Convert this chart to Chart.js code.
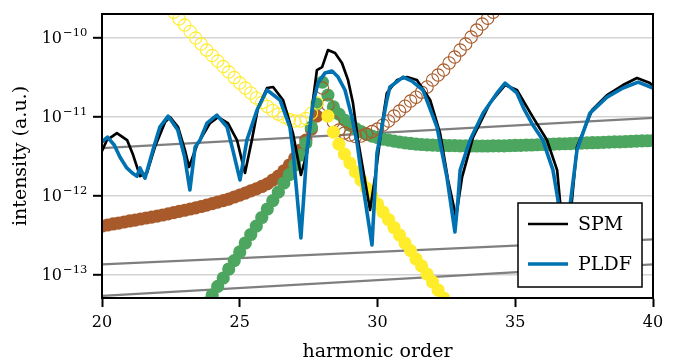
<!DOCTYPE html>
<html><head><meta charset="utf-8">
<script src="https://cdn.jsdelivr.net/npm/chart.js@4.4.1/dist/chart.umd.min.js"></script>
<style>html,body{margin:0;padding:0;background:#fff;overflow:hidden}canvas{display:block}</style>
</head><body>
<canvas id="c" width="679" height="362"></canvas>
<script>
// ---------- data ----------
const xTickValues = [20, 25, 30, 35, 40];
const xTickLabels = ['20', '25', '30', '35', '40'];
const yTickValues = [1e-13, 1e-12, 1e-11, 1e-10];
const yTickBase = '10';
const yTickExps = ['\u221213', '\u221212', '\u221211', '\u221210'];
const xTitle = 'harmonic order';
const yTitle = 'intensity (a.u.)';

const spmX = [20.0,20.18,20.54,20.91,21.13,21.38,21.63,21.92,22.29,22.47,22.76,23.01,23.16,23.45,23.92,24.21,24.57,24.90,25.19,25.44,25.66,25.99,26.21,26.57,26.93,27.22,27.44,27.66,27.80,27.99,28.20,28.46,28.71,28.93,29.11,29.29,29.51,29.73,29.95,30.16,30.34,30.71,31.07,31.43,31.91,32.27,32.56,32.85,33.07,33.47,34.08,34.63,35.06,35.64,36.15,36.52,36.62,36.81,37.06,37.24,37.79,38.33,38.91,39.42,39.89,40.0];
const spmY = [3.68e-12,5.07e-12,6.22e-12,5.07e-12,3.27e-12,1.77e-12,1.94e-12,4.13e-12,8.57e-12,9.9e-12,7.41e-12,3.78e-12,2.31e-12,4.38e-12,8.32e-12,9.9e-12,8.32e-12,5.07e-12,1.94e-12,5.07e-12,1.29e-11,2.31e-11,2.38e-11,1.63e-11,6.22e-12,1.83e-12,3.47e-12,1.63e-11,3.9e-11,4.25e-11,6.98e-11,6.4e-11,4.79e-11,2.92e-11,1.49e-11,5.07e-12,1.83e-12,6.59e-13,2.11e-12,7.85e-12,2.0e-11,2.92e-11,3.18e-11,2.92e-11,1.63e-11,6.22e-12,1.58e-12,5.37e-13,1.72e-12,5.53e-12,1.49e-11,2.52e-11,2.18e-11,9.9e-12,5.07e-12,2.11e-12,8.83e-13,2.06e-13,8.83e-13,4.13e-12,1.22e-11,1.88e-11,2.52e-11,3.09e-11,2.67e-11,2.38e-11];

const pldfX = [20.0,20.2,20.45,20.65,20.9,21.1,21.27,21.38,21.56,21.85,22.1,22.4,22.75,23.0,23.19,23.38,23.56,23.81,24.17,24.54,24.75,25.01,25.26,25.63,25.99,26.46,26.82,26.93,27.22,27.44,27.66,27.84,28.09,28.35,28.57,28.82,29.07,29.26,29.44,29.80,29.98,30.16,30.34,30.45,30.93,31.25,31.65,32.16,32.52,32.81,32.92,33.0,33.36,33.83,34.34,34.63,35.06,35.3,35.64,36.0,36.37,36.55,36.8,37.0,37.24,37.71,38.33,38.91,39.46,40.0];
const pldfY = [4.79e-12,5.53e-12,4.36e-12,3.09e-12,2.25e-12,1.94e-12,1.77e-12,2.25e-12,1.67e-12,3.78e-12,7.41e-12,1.02e-11,6.79e-12,3.09e-12,1.18e-12,4.13e-12,5.07e-12,8.32e-12,1.05e-11,7.41e-12,3.78e-12,1.58e-12,5.07e-12,1.22e-11,2.18e-11,1.63e-11,7.41e-12,3.78e-12,2.92e-13,3.78e-12,1.49e-11,2.67e-11,3.57e-11,3.79e-11,3.18e-11,2.18e-11,9.9e-12,4.65e-12,1.58e-12,2.38e-13,3.47e-12,7.41e-12,1.63e-11,2.38e-11,3.18e-11,2.83e-11,2.18e-11,7.41e-12,1.72e-12,3.47e-13,8.83e-13,2.11e-12,5.07e-12,1.11e-11,2.0e-11,2.67e-11,2.0e-11,1.29e-11,7.85e-12,5.07e-12,2.11e-12,8.83e-13,2.06e-13,8.09e-13,3.78e-12,1.11e-11,1.77e-11,2.31e-11,2.75e-11,2.31e-11];

const brownFilledX = [20.0,20.2,20.4,20.6,20.8,21.0,21.2,21.4,21.6,21.8,22.0,22.2,22.4,22.6,22.8,23.0,23.2,23.4,23.6,23.8,24.0,24.2,24.4,24.6,24.8,25.0,25.2,25.4,25.6,25.8,26.0,26.2,26.4,26.6,26.8,27.0,27.2,27.4,27.6,27.8];
const brownFilledY = [4.13e-13,4.26e-13,4.39e-13,4.51e-13,4.65e-13,4.79e-13,4.92e-13,5.07e-13,5.22e-13,5.37e-13,5.53e-13,5.70e-13,5.90e-13,6.11e-13,6.33e-13,6.55e-13,6.79e-13,7.03e-13,7.30e-13,7.62e-13,7.96e-13,8.32e-13,8.69e-13,9.08e-13,9.63e-13,1.02e-12,1.08e-12,1.15e-12,1.22e-12,1.31e-12,1.41e-12,1.58e-12,1.77e-12,2.06e-12,2.45e-12,3.00e-12,3.78e-12,5.07e-12,6.98e-12,1.02e-11];

const brownOpenX = [28.0,28.2,28.4,28.6,28.8,29.0,29.2,29.4,29.6,29.8,30.0,30.2,30.4,30.6,30.8,31.0,31.2,31.4,31.6,31.8,32.0,32.2,32.4,32.6,32.8,33.0,33.2,33.4,33.6,33.8,34.0,34.2];
const brownOpenY = [2.31e-11,1.41e-11,8.57e-12,6.79e-12,6.22e-12,5.86e-12,5.61e-12,5.70e-12,6.04e-12,6.50e-12,6.98e-12,7.85e-12,8.83e-12,1.02e-11,1.18e-11,1.36e-11,1.58e-11,1.77e-11,2.05e-11,2.38e-11,2.92e-11,3.37e-11,3.90e-11,4.79e-11,5.70e-11,6.98e-11,8.32e-11,1.02e-10,1.25e-10,1.49e-10,1.77e-10,2.11e-10];

const yellowOpenX = [22.6,22.8,23.0,23.2,23.4,23.6,23.8,24.0,24.2,24.4,24.6,24.8,25.0,25.2,25.4,25.6,25.8,26.0,26.2,26.4,26.6,26.8,27.0,27.2,27.4,27.6,27.8];
const yellowOpenY = [2.11e-10,1.73e-10,1.45e-10,1.20e-10,9.91e-11,8.32e-11,6.98e-11,5.95e-11,5.07e-11,4.32e-11,3.68e-11,3.13e-11,2.67e-11,2.31e-11,2.00e-11,1.73e-11,1.51e-11,1.35e-11,1.20e-11,1.08e-11,9.91e-12,9.22e-12,8.83e-12,8.83e-12,9.48e-12,1.11e-11,1.49e-11];

const yellowFilledX = [28.2,28.4,28.6,28.8,29.0,29.2,29.4,29.6,29.8,30.0,30.2,30.4,30.6,30.8,31.0,31.2,31.4,31.6,31.8,32.0,32.2,32.4];
const yellowFilledY = [1.02e-11,6.40e-12,4.51e-12,3.37e-12,2.59e-12,2.00e-12,1.58e-12,1.25e-12,9.91e-13,7.85e-13,6.22e-13,5.00e-13,3.96e-13,3.18e-13,2.52e-13,2.02e-13,1.58e-13,1.29e-13,1.02e-13,8.09e-14,6.40e-14,5.07e-14];

const greenX = [23.8,24.0,24.2,24.4,24.6,24.8,25.0,25.2,25.4,25.6,25.8,26.0,26.2,26.4,26.6,26.8,27.0,27.2,27.4,27.6,27.8,28.0,28.2,28.4,28.6,28.8,29.0,29.2,29.4,29.6,29.8,30.0,30.2,30.4,30.6,30.8,31.0,31.2,31.4,31.6,31.8,32.0,32.2,32.4,32.6,32.8,33.0,33.2,33.4,33.6,33.8,34.0,34.2,34.4,34.6,34.8,35.0,35.2,35.4,35.6,35.8,36.0,36.2,36.4,36.6,36.8,37.0,37.2,37.4,37.6,37.8,38.0,38.2,38.4,38.6,38.8,39.0,39.2,39.4,39.6,39.8,40.0];
const greenY = [4.39e-14,5.53e-14,7.10e-14,9.08e-14,1.18e-13,1.51e-13,1.94e-13,2.52e-13,3.23e-13,4.13e-13,5.30e-13,6.79e-13,8.69e-13,1.11e-12,1.45e-12,1.85e-12,2.45e-12,3.27e-12,4.65e-12,7.41e-12,1.45e-11,2.75e-11,1.88e-11,1.33e-11,1.08e-11,9.08e-12,7.85e-12,7.10e-12,6.50e-12,6.04e-12,5.70e-12,5.46e-12,5.22e-12,5.07e-12,4.92e-12,4.79e-12,4.68e-12,4.59e-12,4.51e-12,4.45e-12,4.41e-12,4.37e-12,4.35e-12,4.33e-12,4.32e-12,4.30e-12,4.28e-12,4.27e-12,4.26e-12,4.26e-12,4.26e-12,4.26e-12,4.27e-12,4.28e-12,4.29e-12,4.31e-12,4.33e-12,4.35e-12,4.37e-12,4.39e-12,4.42e-12,4.45e-12,4.47e-12,4.50e-12,4.53e-12,4.55e-12,4.58e-12,4.61e-12,4.63e-12,4.66e-12,4.69e-12,4.71e-12,4.74e-12,4.77e-12,4.80e-12,4.82e-12,4.85e-12,4.88e-12,4.91e-12,4.94e-12,4.97e-12,5.00e-12];

const grayX = [20, 40];
const grayA = [4.0e-12, 9.7e-12];
const grayB = [1.35e-13, 2.8e-13];
const grayC = [5.4e-14, 1.35e-13];

// ---------- styles ----------
const FONT = '"DejaVu Serif", "Liberation Serif", serif';
const C_BLUE = '#0072b2', C_BROWN = '#a85a2a', C_GREEN = '#4ca65f', C_YELLOW = '#ffec2a', C_GRAY = '#7f7f7f';
const pts = (xs, ys) => xs.map((x, i) => ({ x: x, y: ys[i] }));

const lineDs = (label, xs, ys, color, w) => ({ label, data: pts(xs, ys), showLine: true, borderColor: color, borderWidth: w, borderJoinStyle: 'round', borderCapStyle: 'butt', pointRadius: 0, fill: false, tension: 0, clip: 0 });
const filledDs = (label, xs, ys, color) => ({ label, data: pts(xs, ys), showLine: false, pointRadius: 6.6, pointBackgroundColor: color, pointBorderColor: color, pointBorderWidth: 0, clip: 0 });
const openDs = (label, xs, ys, color) => ({ label, data: pts(xs, ys), showLine: false, pointRadius: 6.2, pointBackgroundColor: 'rgba(0,0,0,0)', pointBorderColor: color, pointBorderWidth: 1.1, clip: 0 });

// first dataset is drawn on top
const datasets = [
  lineDs('PLDF', pldfX, pldfY, C_BLUE, 3.6),
  lineDs('SPM', spmX, spmY, '#000000', 2.7),
  filledDs('yf', yellowFilledX, yellowFilledY, C_YELLOW),
  openDs('yo', yellowOpenX, yellowOpenY, C_YELLOW),
  openDs('bo', brownOpenX, brownOpenY, C_BROWN),
  filledDs('g', greenX, greenY, C_GREEN),
  filledDs('bf', brownFilledX, brownFilledY, C_BROWN),
  lineDs('ga', grayX, grayA, C_GRAY, 2.2),
  lineDs('gb', grayX, grayB, C_GRAY, 2.2),
  lineDs('gc', grayX, grayC, C_GRAY, 2.2)
];

const framePlugin = {
  id: 'frame',
  afterDatasetsDraw(chart) {
    const { ctx, chartArea: a } = chart;
    ctx.save();
    ctx.strokeStyle = '#000'; ctx.lineWidth = 2;
    ctx.strokeRect(a.left, a.top, a.right - a.left, a.bottom - a.top);
    ctx.restore();
  }
};

const textPlugin = {
  id: 'texts',
  afterDraw(chart) {
    const { ctx, chartArea: a } = chart;
    const ys = chart.scales.y;
    ctx.save();
    ctx.fillStyle = '#000';
    yTickValues.forEach((v, i) => {
      const py = ys.getPixelForValue(v);
      ctx.font = '16px ' + FONT;
      ctx.textAlign = 'right'; ctx.textBaseline = 'middle';
      ctx.fillText(yTickBase, 62, py + 1);
      ctx.font = '11.5px ' + FONT;
      ctx.textAlign = 'left';
      ctx.fillText(yTickExps[i], 63, py - 5);
    });
    ctx.font = '19px ' + FONT;
    ctx.textAlign = 'center'; ctx.textBaseline = 'middle';
    ctx.fillText(xTitle, (a.left + a.right) / 2, 352);
    ctx.translate(21, (a.top + a.bottom) / 2);
    ctx.rotate(-Math.PI / 2);
    ctx.fillText(yTitle, 0, 0);
    ctx.restore();

    // legend
    const entries = ['SPM', 'PLDF'].map(l => datasets.find(d => d.label === l));
    const x0 = a.right - 135, y0 = a.bottom - 95, w = 124, h = 84;
    ctx.save();
    ctx.fillStyle = '#fff';
    ctx.fillRect(x0, y0, w, h);
    ctx.strokeStyle = '#000'; ctx.lineWidth = 1.5;
    ctx.strokeRect(x0, y0, w, h);
    entries.forEach((d, i) => {
      const cy = y0 + 21 + i * 40;
      ctx.strokeStyle = d.borderColor; ctx.lineWidth = d.borderWidth;
      ctx.beginPath(); ctx.moveTo(x0 + 10, cy); ctx.lineTo(x0 + 50, cy); ctx.stroke();
      ctx.fillStyle = '#000';
      ctx.font = '19px ' + FONT;
      ctx.textAlign = 'left'; ctx.textBaseline = 'middle';
      ctx.fillText(d.label, x0 + 60, cy + 1);
    });
    ctx.restore();
  }
};

new Chart(document.getElementById('c'), {
  type: 'scatter',
  data: { datasets },
  options: {
    responsive: false,
    devicePixelRatio: 1,
    animation: false,
    events: [],
    layout: { padding: { left: 0, top: 14, right: 26, bottom: 0 } },
    plugins: { legend: { display: false }, tooltip: { enabled: false }, title: { display: false } },
    scales: {
      x: {
        type: 'linear', min: 20, max: 40,
        afterBuildTicks: s => { s.ticks = xTickValues.map(v => ({ value: v })); },
        afterFit: s => { s.height = 64; },
        ticks: { autoSkip: false, maxRotation: 0, padding: 6, color: '#000', font: { family: FONT, size: 16 },
                 callback: (v, i) => xTickLabels[i] },
        grid: { drawOnChartArea: false, drawTicks: true, tickLength: 9, tickColor: '#000', tickWidth: 2 },
        border: { display: true, color: '#000', width: 2 }
      },
      y: {
        type: 'logarithmic', min: 5.07e-14, max: 2.0e-10,
        afterBuildTicks: s => { s.ticks = yTickValues.map(v => ({ value: v })); },
        afterFit: s => { s.width = 102; },
        ticks: { autoSkip: false, callback: () => '', font: { family: FONT, size: 16 } },
        grid: { color: '#d3d3d3', lineWidth: 1.6, drawTicks: true, tickLength: 9, tickColor: '#000', tickWidth: 2 },
        border: { display: true, color: '#000', width: 2 }
      }
    }
  },
  plugins: [framePlugin, textPlugin]
});
</script>
</body></html>
